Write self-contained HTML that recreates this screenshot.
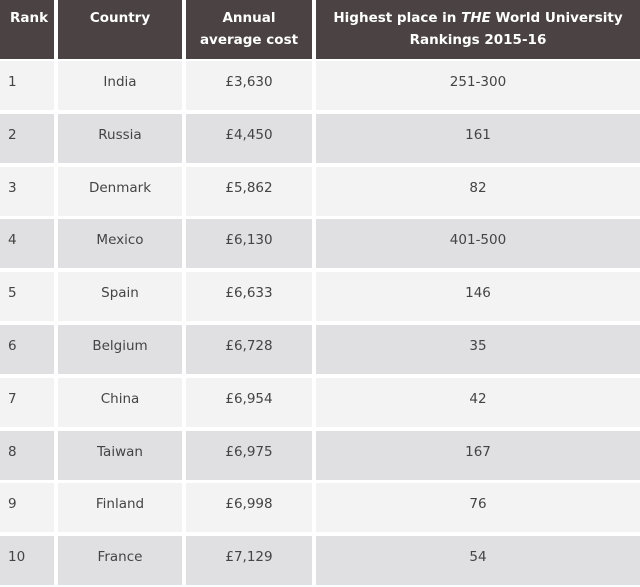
<!DOCTYPE html><html><head><style>
body{margin:0;width:640px;height:587px;background:#fff;position:relative;overflow:hidden;font-family:"DejaVu Sans","Liberation Sans",sans-serif;}
.c{position:absolute;box-sizing:border-box;font-size:13.5px;color:#444;text-align:center;}
.h{background:#4a4243;color:#fff;font-weight:bold;font-size:13.5px;line-height:22px;}
</style></head><body>
<div class="c h" style="left:0;top:0;width:54px;height:59px;padding-top:7px;text-align:left;padding-left:10px">Rank</div>
<div class="c h" style="left:58px;top:0;width:124px;height:59px;padding-top:7px">Country</div>
<div class="c h" style="left:186px;top:0;width:126px;height:59px;padding-top:7px">Annual<br>average cost</div>
<div class="c h" style="left:316px;top:0;width:324px;height:59px;padding-top:7px">Highest place in <i>THE</i> World University<br>Rankings 2015-16</div>
<div id="rows"></div>
<script>
var d=[["1","India","£3,630","251-300"],["2","Russia","£4,450","161"],["3","Denmark","£5,862","82"],["4","Mexico","£6,130","401-500"],["5","Spain","£6,633","146"],["6","Belgium","£6,728","35"],["7","China","£6,954","42"],["8","Taiwan","£6,975","167"],["9","Finland","£6,998","76"],["10","France","£7,129","54"]];
var cols=[[0,54],[58,124],[186,126],[316,324]],h="";
d.forEach(function(r,i){var t=61+52.8*i,bg=i%2?"#e0dfe1":"#f4f3f4";
cols.forEach(function(c,j){h+='<div class="c" style="left:'+c[0]+'px;top:'+t+'px;width:'+c[1]+'px;height:49px;background:'+bg+';padding-top:12px;line-height:18px;'+(j==0?'text-align:left;padding-left:8px':'')+'">'+r[j]+'</div>';});});
document.getElementById("rows").innerHTML=h;
</script>
</body></html>
